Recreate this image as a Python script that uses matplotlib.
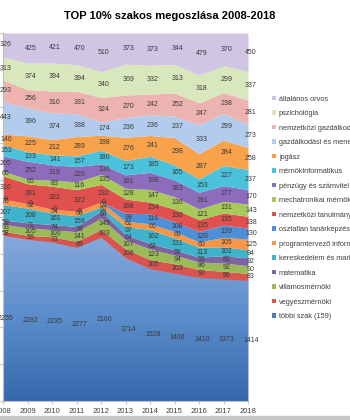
import matplotlib.pyplot as plt
import numpy as np
from matplotlib.colors import LinearSegmentedColormap

plt.rcParams['font.family'] = ['Liberation Sans', 'DejaVu Sans']

years = [2008, 2009, 2010, 2011, 2012, 2013, 2014, 2015, 2016, 2017, 2018]

# bottom series first
majors = ['többi szak (159)', 'vegyészmérnöki', 'villamosmérnöki', 'matematika',
          'kereskedelem és marketing', 'programtervező informatikus',
          'osztatlan tanárképzés', 'nemzetközi tanulmányok', 'mechatronikai mérnöki',
          'pénzügy és számvitel', 'mérnökinformatikus', 'jogász',
          'gazdálkodási és menedzsment', 'nemzetközi gazdálkodás', 'pszichológia',
          'általános orvos']

tobbi = [2255, 2282, 2235, 2277, 2160, 1714, 1528, 1400, 1410, 1373, 1414]
vegyesz = [58, 56, 73, 89, 103, 106, 105, 103, 90, 86, 83]
villamos = [93, 105, 100, 141, 149, 107, 123, 94, 86, 92, 90]
matek = [59, 71, 74, 78, 94, 64, 63, 58, 56, 82, 92]
keresk = [207, 208, 161, 159, 52, 97, 162, 131, 113, 102, 94]
progterv = [76, 62, 54, 65, 66, 61, 66, 69, 60, 105, 125]
osztatlan = [0, 0, 0, 0, 0, 99, 116, 108, 120, 139, 130]
nemz_tan = [316, 281, 322, 322, 232, 168, 134, 138, 135, 135, 138]
mechatr = [65, 66, 83, 116, 135, 128, 147, 136, 121, 131, 143]
penzugy = [205, 252, 219, 226, 136, 161, 198, 183, 191, 177, 170]
mernokinf = [153, 133, 141, 157, 180, 173, 185, 165, 153, 227, 237]
jogasz = [146, 225, 212, 289, 198, 276, 241, 298, 287, 284, 258]
gazd_men = [443, 396, 374, 338, 174, 236, 236, 237, 333, 299, 273]
nemz_gazd = [293, 256, 310, 331, 324, 270, 242, 252, 247, 238, 281]
pszich = [313, 374, 394, 394, 340, 369, 332, 313, 318, 299, 337]
orvos = [326, 425, 421, 470, 510, 373, 373, 344, 479, 370, 450]

series = [tobbi, vegyesz, villamos, matek, keresk, progterv, osztatlan, nemz_tan,
          mechatr, penzugy, mernokinf, jogasz, gazd_men, nemz_gazd, pszich, orvos]

colors = ['#4a7ec0', '#d9534f', '#9bbb59', '#8064a2', '#3fb2cc', '#f79646',
          '#4f8fd6', '#e0504e', '#a6c95a', '#8e6cbc', '#4bc2dc', '#f9a24c',
          '#b3cbec', '#ecb3b1', '#d9e8bc', '#d0c5e2']

data = np.array(series, dtype=float)
share = data / data.sum(axis=0)
tops = np.cumsum(share, axis=0)
bottoms = tops - share

fig = plt.figure(figsize=(3.5, 4.2), dpi=100)
ax = fig.add_axes([3 / 350, 1 - 401 / 420, 245 / 350, 368 / 420])

x = np.array(years)
for i, name in enumerate(majors):
    poly = ax.fill_between(x, bottoms[i], tops[i], color=colors[i], lw=0, label=name)
    if i == 0:
        cmap = LinearSegmentedColormap.from_list('g', ['#3767ab', '#5b8ccb', '#86a9dc'])
        grad = np.linspace(0, 1, 256).reshape(-1, 1)
        img = ax.imshow(grad, extent=[2008, 2018, 0, tops[0].max()], origin='lower',
                        aspect='auto', cmap=cmap, zorder=poly.get_zorder())
        img.set_clip_path(poly.get_paths()[0], transform=ax.transData)
    for j, yr in enumerate(years):
        ax.text(yr + 0.12, (bottoms[i][j] + tops[i][j]) / 2, str(series[i][j]),
                ha='center', va='center', fontsize=5, color='#3a3a3a')

ax.set_xlim(2008, 2018)
ax.set_ylim(0, 1)
ax.set_xticks(years)
ax.set_xticklabels([str(y) for y in years], fontsize=5.5, color='#404040')
ax.set_yticks(np.arange(0, 1.01, 0.1))
ax.set_yticklabels([])
ax.tick_params(axis='x', length=2, color='#bfbfbf', pad=3)
ax.tick_params(axis='y', length=2, color='#bfbfbf')
for s in ['top', 'right']:
    ax.spines[s].set_visible(False)
ax.spines['left'].set_color('#bfbfbf')
ax.spines['bottom'].set_color('#bfbfbf')

fig.text(170 / 350, 1 - 16 / 420, 'TOP 10% szakos megoszlása 2008-2018',
         ha='center', va='center', fontsize=8, fontweight='bold')

h, l = ax.get_legend_handles_labels()
fig.legend(h[::-1], l[::-1], loc='upper left', bbox_to_anchor=(265 / 350, 1 - 89 / 420),
           frameon=False, fontsize=5.3, handlelength=0.6, handleheight=0.6,
           handletextpad=0.4, labelspacing=1.02, labelcolor='#404040')

fig.patches.append(plt.Rectangle((0, 0), 1, 4 / 420, transform=fig.transFigure,
                                 color='#c8c8c8', zorder=0))

fig.savefig('out.png', dpi=100)
